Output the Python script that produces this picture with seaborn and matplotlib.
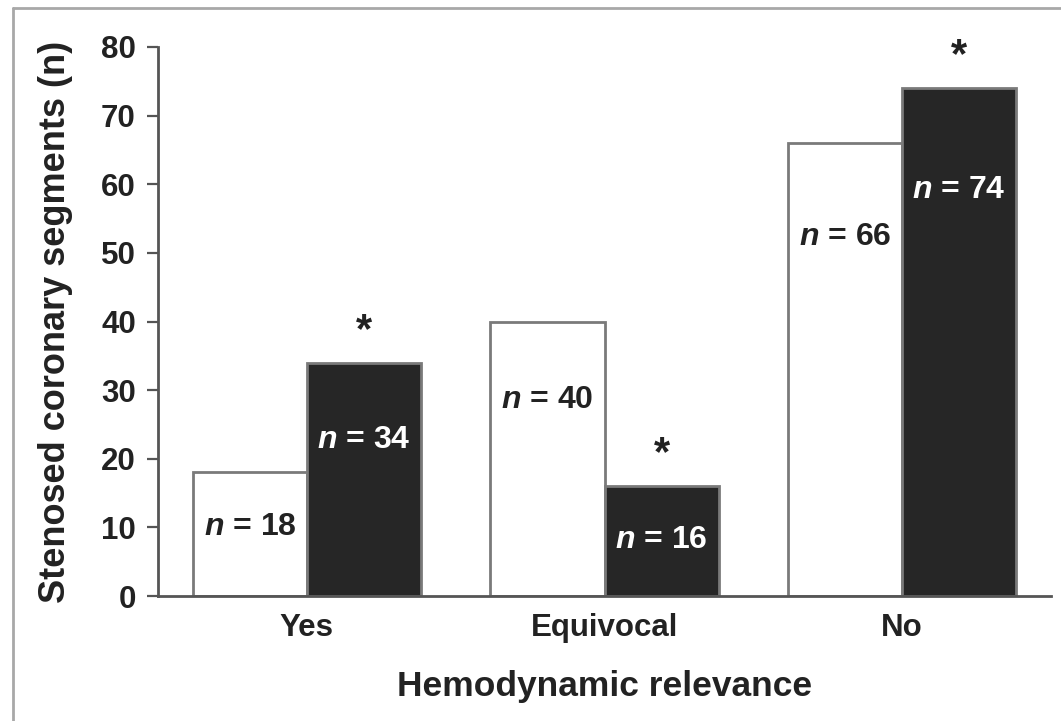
import matplotlib
matplotlib.use("Agg")
import matplotlib.pyplot as plt
from matplotlib.lines import Line2D
import seaborn as sns
import pandas as pd

# ---- data ----
categories = ["Yes", "Equivocal", "No"]
groups = ["A", "B"]
values_a = [18, 40, 66]   # white bars
values_b = [34, 16, 74]   # black bars
label_y_a = [10, 28.6, 52.3]
label_y_b = [22.7, 8.2, 59.2]
star_on_b = [True, True, True]
yticks = [0, 10, 20, 30, 40, 50, 60, 70, 80]

df = pd.DataFrame({
    "relevance": categories * 2,
    "group": [groups[0]] * 3 + [groups[1]] * 3,
    "segments": values_a + values_b,
})

sns.set_theme(style="white")
plt.rcParams["font.family"] = ["Liberation Sans", "DejaVu Sans"]
plt.rcParams["font.weight"] = "bold"
plt.rcParams["mathtext.fontset"] = "custom"
plt.rcParams["mathtext.it"] = "Liberation Sans:italic:bold"
plt.rcParams["mathtext.rm"] = "Liberation Sans:bold"
plt.rcParams["mathtext.bf"] = "Liberation Sans:bold"

fig = plt.figure(figsize=(10.61, 7.21), dpi=100)
ax = fig.add_axes([158 / 1061, 1 - 596 / 721, (1051 - 158) / 1061, (596 - 47) / 721])

sns.barplot(data=df, x="relevance", y="segments", hue="group",
            order=categories, hue_order=groups,
            palette=["white", "#262626"], edgecolor="#7a7a7a", linewidth=2.0,
            width=0.766, gap=0, saturation=1, legend=False, ax=ax)

ax.set_xlim(-0.5, 2.5)
ax.set_ylim(0, 80)
ax.set_yticks(yticks)

for sp in ["top", "right"]:
    ax.spines[sp].set_visible(False)
for sp in ["left", "bottom"]:
    ax.spines[sp].set_color("#555555")
    ax.spines[sp].set_linewidth(2.0)

ax.tick_params(axis="y", length=8, width=1.6, color="#555555", pad=8,
               labelsize=22.5, labelcolor="#222222", left=True)
ax.tick_params(axis="x", length=0, pad=12, labelsize=22.5, labelcolor="#222222")
for lab in ax.get_xticklabels() + ax.get_yticklabels():
    lab.set_fontweight("bold")

ax.set_xlabel("Hemodynamic relevance", fontsize=25.5, fontweight="bold",
              color="#222222", labelpad=20)
ax.set_ylabel("Stenosed coronary segments (n)", fontsize=26, fontweight="bold",
              color="#222222", labelpad=20)

# annotations
containers = ax.containers
for bar, v, ly in zip(containers[0], values_a, label_y_a):
    cx = bar.get_x() + bar.get_width() / 2
    ax.text(cx, ly, r"$\mathit{n}$ = " + str(v), ha="center", va="center",
            fontsize=23, fontweight="bold", color="#222222")
for bar, v, ly, st in zip(containers[1], values_b, label_y_b, star_on_b):
    cx = bar.get_x() + bar.get_width() / 2
    ax.text(cx, ly, r"$\mathit{n}$ = " + str(v), ha="center", va="center",
            fontsize=23, fontweight="bold", color="white")
    if st:
        ax.annotate("*", xy=(cx, v), xytext=(0, 23), textcoords="offset points",
                    ha="center", va="center", fontsize=30, fontweight="bold",
                    color="#222222")

# outer frame (partially cropped)
fig.add_artist(Line2D([13 / 1061, 13 / 1061], [0, 1 - 8 / 721],
                      transform=fig.transFigure, color="#a8a8a8", lw=2))
fig.add_artist(Line2D([13 / 1061, 1], [1 - 8 / 721, 1 - 8 / 721],
                      transform=fig.transFigure, color="#a8a8a8", lw=2))

fig.savefig("out.png", dpi=100)
